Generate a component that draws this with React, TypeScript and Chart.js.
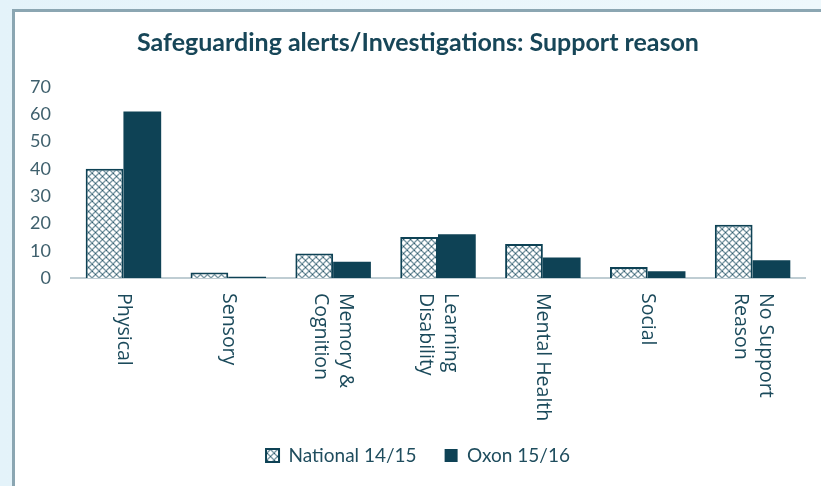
import React, { useEffect, useRef } from "react";
import { Chart, registerables } from "chart.js";

Chart.register(...registerables);

const chartTitle = "Safeguarding alerts/Investigations: Support reason";
const categories: (string | string[])[] = [
  "Physical",
  "Sensory",
  ["Memory &", "Cognition"],
  ["Learning", "Disability"],
  "Mental Health",
  "Social",
  ["No Support", "Reason"],
];
const seriesNames = ["National 14/15", "Oxon 15/16"];
const nationalValues = [40, 2, 9, 15, 12.5, 4, 19.5];
const oxonValues = [61, 0.5, 6, 16, 7.5, 2.5, 6.5];
const yMin = 0;
const yMax = 70;
const yStep = 10;

const DARK = "#0e4255";
const TEXT = "#1b4a5b";

function makePattern(ctx: CanvasRenderingContext2D) {
  const s = 7;
  const c = document.createElement("canvas");
  c.width = s;
  c.height = s;
  const g = c.getContext("2d")!;
  g.fillStyle = "#ffffff";
  g.fillRect(0, 0, s, s);
  g.strokeStyle = "#7896a2";
  g.lineWidth = 1.3;
  g.beginPath();
  g.moveTo(-1, -1);
  g.lineTo(s + 1, s + 1);
  g.moveTo(s + 1, -1);
  g.lineTo(-1, s + 1);
  g.stroke();
  g.fillStyle = "#2f5a6b";
  g.fillRect(3, 3, 1, 1);
  g.fillRect(0, 0, 1, 1);
  return ctx.createPattern(c, "repeat")!;
}

const xLabelPlugin = {
  id: "rotatedXLabels",
  afterDraw(chart: any) {
    const xs = chart.scales.x;
    const ctx: CanvasRenderingContext2D = chart.ctx;
    const lh = 25;
    ctx.save();
    ctx.font = '19.5px "Open Sans"';
    ctx.fillStyle = TEXT;
    ctx.textAlign = "left";
    ctx.textBaseline = "middle";
    categories.forEach((lab, i) => {
      const lines = Array.isArray(lab) ? lab : [lab];
      const x = xs.getPixelForValue(i);
      const y = xs.top + 15;
      ctx.save();
      ctx.translate(x, y);
      ctx.rotate(Math.PI / 2);
      lines.forEach((ln, j) => {
        const off = -((lines.length - 1) / 2 - j) * lh;
        ctx.fillText(ln, 0, off);
      });
      ctx.restore();
    });
    ctx.restore();
  },
};

export default function App() {
  const ref = useRef<HTMLCanvasElement | null>(null);

  useEffect(() => {
    document.body.style.margin = "0";
    const canvas = ref.current!;
    const ctx = canvas.getContext("2d")!;
    const pattern = makePattern(ctx);
    const chart = new Chart(ctx, {
      type: "bar",
      data: {
        labels: categories as any,
        datasets: [
          {
            label: seriesNames[0],
            data: nationalValues,
            backgroundColor: pattern as any,
            borderColor: DARK,
            borderWidth: 2,
            categoryPercentage: 0.72,
            barPercentage: 1.0,
          },
          {
            label: seriesNames[1],
            data: oxonValues,
            backgroundColor: DARK,
            borderWidth: 0,
            categoryPercentage: 0.72,
            barPercentage: 1.0,
          },
        ],
      },
      options: {
        responsive: false,
        animation: false,
        devicePixelRatio: 1,
        layout: { padding: 0 },
        plugins: {
          title: {
            display: true,
            text: chartTitle,
            color: "#174658",
            font: { family: "Lato", size: 25, weight: "bold" },
            padding: { top: 16, bottom: 29 },
          },
          legend: {
            display: true,
            position: "bottom",
            labels: {
              color: "#1f4d5e",
              font: { family: "Lato", size: 19 },
              boxWidth: 13,
              boxHeight: 13,
              padding: 28,
            },
          },
          tooltip: { enabled: false },
        },
        scales: {
          x: {
            grid: { display: false, drawTicks: false },
            border: { display: true, color: "#bfcdd3", width: 2 },
            ticks: { display: false },
            afterFit(s: any) {
              s.height = 140;
            },
          },
          y: {
            min: yMin,
            max: yMax,
            grid: { display: false, drawTicks: false },
            border: { display: false },
            ticks: {
              stepSize: yStep,
              padding: 20,
              color: "#3f606d",
              font: { family: "Lato", size: 18 },
            },
            afterFit(s: any) {
              s.width = 56;
            },
          },
          yR: {
            type: "linear",
            position: "right",
            display: true,
            grid: { display: false, drawTicks: false },
            border: { display: false },
            ticks: { display: false },
            afterFit(s: any) {
              s.width = 16;
            },
          },
        },
      } as any,
      plugins: [xLabelPlugin],
    });
    return () => chart.destroy();
  }, []);

  return (
    <div
      style={{
        position: "fixed",
        left: 0,
        top: 0,
        width: 821,
        height: 486,
        overflow: "hidden",
        background: "linear-gradient(to right, #e4f3fa, #eef8fc)",
      }}
    >
      <div
        style={{
          position: "absolute",
          left: 12,
          top: 9,
          right: -10,
          bottom: -10,
          borderLeft: "3px solid #8ba6b2",
          borderTop: "3px solid #8ba6b2",
          background: "#ffffff",
        }}
      />
      <canvas
        ref={ref}
        width={806}
        height={463}
        style={{ position: "absolute", left: 15, top: 12, width: 806, height: 463 }}
      />
    </div>
  );
}
